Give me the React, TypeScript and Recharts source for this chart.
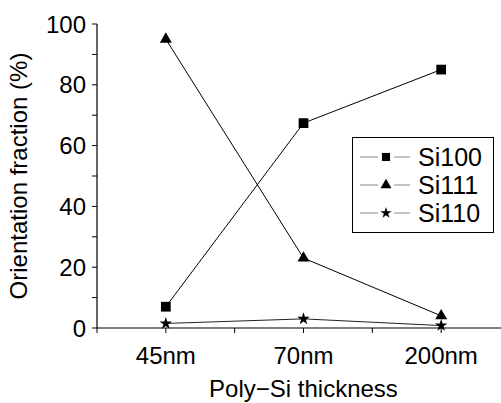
import React from "react";
import { LineChart, Line, XAxis, YAxis, Legend, Symbols } from "recharts";

const categories = ["45nm", "70nm", "200nm"];
const si100 = [7, 67.4, 85];
const si111 = [95, 23, 4];
const si110 = [1.5, 3, 0.8];

const seriesKeys = ["si100", "si111", "si110"];
const seriesNames = ["Si100", "Si111", "Si110"];

const xTicks = [0.5, 1, 1.5, 2, 2.5, 3, 3.5];
const yTicks = [0, 10, 20, 30, 40, 50, 60, 70, 80, 90, 100];

const FONT = "'Liberation Sans', Arial, sans-serif";

const data = categories.map((name, i) => ({
  x: i + 1,
  name,
  si100: si100[i],
  si111: si111[i],
  si110: si110[i],
}));

const markerType: Record<string, "square" | "triangle" | "star"> = {
  si100: "square",
  si111: "triangle",
  si110: "star",
};
const markerSize: Record<string, number> = { si100: 95, si111: 62, si110: 48 };
const legendSize: Record<string, number> = { si100: 66, si111: 52, si110: 40 };

const makeDot = (key: string) => (props: any) => {
  const { cx, cy, index } = props;
  if (cx == null || cy == null) return <g key={`${key}-${index}`} />;
  return (
    <Symbols
      key={`${key}-${index}`}
      cx={cx}
      cy={cy}
      type={markerType[key]}
      size={markerSize[key]}
      fill="#000"
      stroke="none"
    />
  );
};

const LegendBox = (props: any) => {
  const payload = props.payload || [];
  const ordered = seriesKeys
    .map((k) => payload.find((p: any) => p.dataKey === k))
    .filter(Boolean);
  return (
    <div
      style={{
        border: "1px solid #000",
        background: "#fff",
        padding: "5px 0 0 7px",
        boxSizing: "border-box",
        width: 142,
        height: 96,
      }}
    >
      {ordered.map((entry: any) => {
        const key = entry.dataKey as string;
        return (
          <div key={key} style={{ display: "flex", alignItems: "center", height: 28 }}>
            <svg width={52} height={20} style={{ display: "block" }}>
              <line x1={0} y1={10} x2={50} y2={10} stroke="#888" strokeWidth={1.2} />
              <rect x={18} y={3} width={16} height={14} fill="#fff" />
              <Symbols cx={26} cy={10} type={markerType[key]} size={legendSize[key]} fill="#000" />
            </svg>
            <span
              style={{
                marginLeft: 6,
                fontFamily: FONT,
                fontSize: 25,
                color: "#000",
                lineHeight: "28px",
              }}
            >
              {entry.value}
            </span>
          </div>
        );
      })}
    </div>
  );
};

export default function App() {
  return (
    <div
      style={{
        position: "fixed",
        left: 0,
        top: 0,
        width: 501,
        height: 403,
        overflow: "hidden",
        background: "#fff",
      }}
    >
      <LineChart
        width={540}
        height={403}
        data={data}
        margin={{ top: 24, right: 30, bottom: 0, left: 0 }}
      >
        <XAxis
          dataKey="x"
          type="number"
          domain={[0.5, 3.5]}
          ticks={xTicks}
          allowDataOverflow
          height={75}
          tickSize={5}
          tickMargin={14}
          tickLine={{ stroke: "#000" }}
          axisLine={{ stroke: "#000", strokeWidth: 1.2 }}
          tick={{ fill: "#000", fontSize: 24, fontFamily: FONT }}
          tickFormatter={(v: number) =>
            Number.isInteger(v) ? categories[v - 1] ?? "" : ""
          }
          label={{
            value: "Poly\u2212Si thickness",
            position: "insideBottom",
            offset: 6,
            style: { fill: "#000", fontSize: 24, fontFamily: FONT },
          }}
        />
        <XAxis
          xAxisId="top"
          orientation="top"
          type="number"
          domain={[0.5, 3.5]}
          ticks={xTicks}
          allowDataOverflow
          height={0}
          mirror
          tick={false}
          tickSize={5}
          tickLine={{ stroke: "#000" }}
          axisLine={{ stroke: "#000", strokeWidth: 1.2 }}
        />
        <YAxis
          type="number"
          domain={[0, 100]}
          ticks={yTicks}
          interval={0}
          width={97}
          tickSize={5}
          tickMargin={6}
          tickLine={{ stroke: "#000" }}
          axisLine={{ stroke: "#000", strokeWidth: 1.2 }}
          tick={{ fill: "#000", fontSize: 24, fontFamily: FONT }}
          tickFormatter={(v: number) => (v % 20 === 0 ? String(v) : "")}
          label={{
            value: "Orientation fraction (%)",
            angle: -90,
            position: "insideLeft",
            offset: 24,
            dx: -6,
            style: { fill: "#000", fontSize: 24, fontFamily: FONT, textAnchor: "middle" },
          }}
        />
        <Legend
          layout="horizontal"
          verticalAlign="middle"
          align="center"
          itemSorter={null as any}
          content={LegendBox}
          wrapperStyle={{ left: 352, top: 137, width: 142, height: 96 }}
        />
        {seriesKeys.map((k, i) => (
          <Line
            key={k}
            dataKey={k}
            name={seriesNames[i]}
            stroke={k === "si110" ? "#222" : "#000"}
            strokeWidth={1}
            dot={makeDot(k)}
            activeDot={false}
            isAnimationActive={false}
          />
        ))}
      </LineChart>
    </div>
  );
}
